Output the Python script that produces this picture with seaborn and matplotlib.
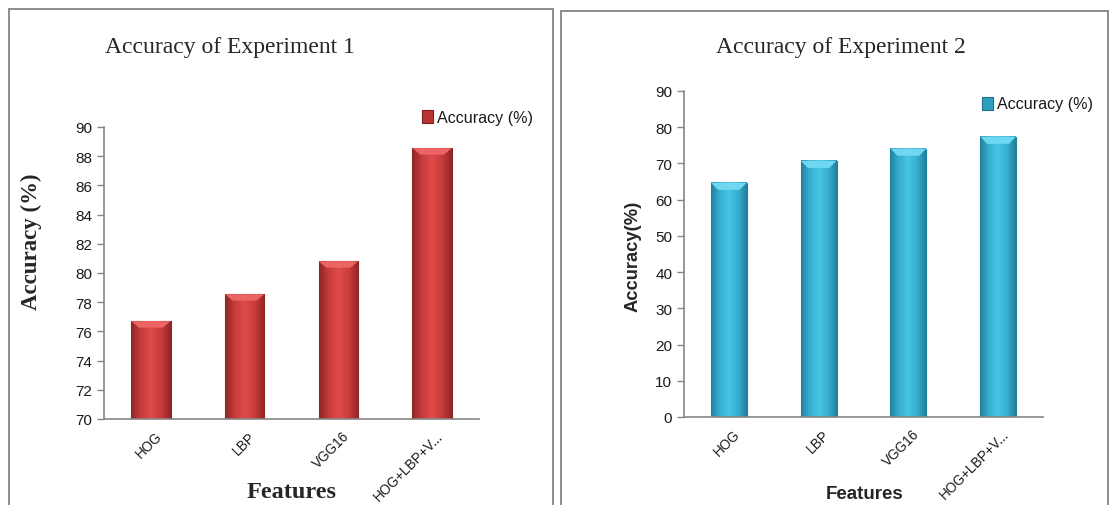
import numpy as np
import pandas as pd
import matplotlib
matplotlib.use("Agg")
import matplotlib.pyplot as plt
import matplotlib.transforms as mtransforms
from matplotlib.patches import Rectangle, Polygon
from matplotlib.colors import LinearSegmentedColormap
import seaborn as sns

features = ["HOG", "LBP", "VGG16", "HOG+LBP+V..."]
acc_exp1 = [76.7, 78.55, 80.8, 88.55]
acc_exp2 = [64.7, 70.75, 74.1, 77.4]
yticks_exp1 = [70, 72, 74, 76, 78, 80, 82, 84, 86, 88, 90]
yticks_exp2 = [0, 10, 20, 30, 40, 50, 60, 70, 80, 90]

sns.set_style("white")
plt.rcParams['font.family'] = ['Liberation Sans', 'DejaVu Sans']

W, H = 1112, 506
fig = plt.figure(figsize=(W / 100, H / 100), dpi=100)
fig.patch.set_facecolor("white")

# panel borders
for (x0, y0, x1, y1) in [(9, 10, 553, 507), (561, 12, 1108, 507)]:
    fig.add_artist(Rectangle((x0 / W, 1 - y1 / H), (x1 - x0) / W, (y1 - y0) / H,
                             transform=fig.transFigure, fill=False,
                             edgecolor="#8c8c8c", linewidth=1.4))

def px_axes(x0, y0, x1, y1):
    return fig.add_axes([x0 / W, 1 - y1 / H, (x1 - x0) / W, (y1 - y0) / H])

def bevel_bars(ax, light, mid, dark, cap):
    cmap = LinearSegmentedColormap.from_list("b", [dark, mid, light, mid, dark])
    grad = np.linspace(0, 1, 256).reshape(1, -1)
    y_lo, y_hi = ax.get_ylim()
    cap_h = (y_hi - y_lo) * 0.022
    for p in list(ax.patches):
        x, y = p.get_x(), p.get_y()
        w, h = p.get_width(), p.get_height()
        y0 = max(y, y_lo)
        top = y + h
        im = ax.imshow(grad, extent=[x, x + w, y0, top], aspect="auto",
                       cmap=cmap, zorder=p.get_zorder() + 0.1)
        im.set_clip_path(p)
        im.set_clip_box(ax.bbox)
        ax.add_patch(Polygon([[x, top], [x + w, top], [x + w * 0.8, top - cap_h],
                              [x + w * 0.2, top - cap_h]], closed=True,
                             facecolor=cap, edgecolor="none",
                             zorder=p.get_zorder() + 0.2))
        p.set_edgecolor(dark)
        p.set_linewidth(0.8)
    ax.set_ylim(y_lo, y_hi)
    ax.set_xlim(-0.5, 3.5)

def style_axes(ax, yticks, ylim):
    ax.set_xlim(-0.5, 3.5)
    ax.set_ylim(*ylim)
    ax.set_yticks(yticks)
    ax.set_yticklabels([str(t) for t in yticks], fontsize=11, color="#1a1a1a")
    ax.set_xticks(range(len(features)))
    ax.set_xticklabels(features, rotation=45, ha="right", rotation_mode="anchor",
                       fontsize=9.8, color="#1a1a1a")
    ax.set_xticks(np.arange(-0.5, 4.0, 1.0), minor=True)
    ax.tick_params(axis="x", which="major", length=0, pad=7)
    ax.tick_params(axis="x", which="minor", length=5, width=1, color="#868686", direction="out")
    ax.tick_params(axis="y", length=5, width=1, color="#868686", direction="out", left=True)
    shift = mtransforms.ScaledTranslation(4 / 100, 0, fig.dpi_scale_trans)
    for lab in ax.get_xticklabels():
        lab.set_transform(lab.get_transform() + shift)
    for s in ["top", "right"]:
        ax.spines[s].set_visible(False)
    for s in ["left", "bottom"]:
        ax.spines[s].set_color("#868686")
        ax.spines[s].set_linewidth(1.2)
    ax.set_xlabel("")
    ax.set_ylabel("")
    ax.grid(False)

# ---- Experiment 1 ----
df1 = pd.DataFrame({"Feature": features, "Accuracy": acc_exp1})
ax1 = px_axes(104, 128, 479, 420)
sns.barplot(data=df1, x="Feature", y="Accuracy", color="#c93b3b", width=0.42,
            saturation=1, ax=ax1)
style_axes(ax1, yticks_exp1, (70, 90))
bevel_bars(ax1, "#e04a4a", "#c83c3c", "#8e2525", "#ec6464")
fig.text(230 / W, 1 - 47 / H, "Accuracy of Experiment 1", ha="center", va="center",
         fontsize=17, family="Liberation Serif")
fig.text(31 / W, 1 - 242 / H, "Accuracy (%)", ha="center", va="center", rotation=90,
         fontsize=16.5, fontweight="bold", family="Liberation Serif")
fig.text(292 / W, 1 - 493 / H, "Features", ha="center", va="center",
         fontsize=17.5, fontweight="bold", family="Liberation Serif")
fig.add_artist(Rectangle((422 / W, 1 - 124 / H), 11 / W, 13 / H, transform=fig.transFigure,
                         facecolor="#b83434", edgecolor="#7a1f1f", linewidth=0.8))
fig.text(437 / W, 1 - 118 / H, "Accuracy (%)", ha="left", va="center", fontsize=11.6,
         color="#1a1a1a")

# ---- Experiment 2 ----
df2 = pd.DataFrame({"Feature": features, "Accuracy": acc_exp2})
ax2 = px_axes(684, 92, 1043, 418)
sns.barplot(data=df2, x="Feature", y="Accuracy", color="#36b2d4", width=0.40,
            saturation=1, ax=ax2)
style_axes(ax2, yticks_exp2, (0, 90))
bevel_bars(ax2, "#48c4e4", "#36b0d2", "#21809c", "#6fd8f0")
fig.text(841 / W, 1 - 48 / H, "Accuracy of Experiment 2", ha="center", va="center",
         fontsize=17, family="Liberation Serif")
fig.text(633 / W, 1 - 256 / H, "Accuracy(%)", ha="center", va="center", rotation=90,
         fontsize=13.2, fontweight="bold")
fig.text(865 / W, 1 - 495 / H, "Features", ha="center", va="center",
         fontsize=13.5, fontweight="bold")
fig.add_artist(Rectangle((982 / W, 1 - 111 / H), 11 / W, 13 / H, transform=fig.transFigure,
                         facecolor="#2f9fc0", edgecolor="#1d6f88", linewidth=0.8))
fig.text(997 / W, 1 - 105 / H, "Accuracy (%)", ha="left", va="center", fontsize=11.6,
         color="#1a1a1a")

fig.savefig("out.png", dpi=100)
